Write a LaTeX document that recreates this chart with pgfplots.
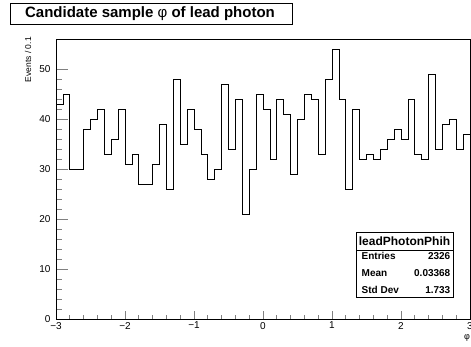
\documentclass[border=0pt]{standalone}
\usepackage{fontspec}
\setmainfont{Liberation Sans}
\usepackage{pgfplots}
\pgfplotsset{compat=1.18}
\begin{document}
\begin{tikzpicture}[x=1bp,y=1bp]
\useasboundingbox (0,0) rectangle (471,346);
\begin{axis}[
  at={(56bp,26.5bp)}, anchor=south west,
  width=414bp, height=280.5bp, scale only axis,
  xmin=-3, xmax=3, ymin=0, ymax=56,
  axis line style={line width=0.8bp},
  tick pos=left, tick align=inside,
  xtick={-3,-2,-1,0,1,2,3},
  xticklabels={−3,−2,−1,0,1,2,3},
  ytick={0,10,20,30,40,50},
  minor x tick num=4, minor y tick num=4,
  xtick style={line width=0.7bp,/pgfplots/major tick length=9bp,/pgfplots/minor tick length=4.5bp},
  ytick style={line width=0.7bp,/pgfplots/major tick length=12bp,/pgfplots/minor tick length=6bp},
  /pgf/number format/assume math mode=true,
  ticklabel style={font=\fontsize{10bp}{12bp}\selectfont},
  yticklabel style={xshift=-2bp},
  xticklabel style={yshift=1bp},
  clip=false,
]
\addplot[const plot mark left, black, line width=0.8bp] coordinates {
(-3.0,43) (-2.9,45) (-2.8,30) (-2.7,30) (-2.6,38) (-2.5,40) (-2.4,42) (-2.3,33) (-2.2,36) (-2.1,42)
(-2.0,31) (-1.9,33) (-1.8,27) (-1.7,27) (-1.6,31) (-1.5,39) (-1.4,26) (-1.3,48) (-1.2,35) (-1.1,42)
(-1.0,38) (-0.9,33) (-0.8,28) (-0.7,30) (-0.6,47) (-0.5,34) (-0.4,44) (-0.3,21) (-0.2,30) (-0.1,45)
(0.0,42) (0.1,32) (0.2,44) (0.3,41) (0.4,29) (0.5,40) (0.6,45) (0.7,44) (0.8,33) (0.9,48)
(1.0,54) (1.1,44) (1.2,26) (1.3,42) (1.4,32) (1.5,33) (1.6,32) (1.7,34) (1.8,36) (1.9,38)
(2.0,36) (2.1,44) (2.2,33) (2.3,32) (2.4,49) (2.5,34) (2.6,39) (2.7,40) (2.8,34) (2.9,37)
(3.0,37)
};
\end{axis}
% y label
\node[rotate=90, anchor=east, inner sep=0pt, font=\fontsize{8.5bp}{9bp}\selectfont] at (28,309) {Events / 0.1};
% x label
\node[inner sep=0pt, font=\fontsize{9bp}{10bp}\selectfont] at (467,8) {φ};
% title box
\draw[line width=0.7bp, fill=white] (10,343) rectangle (292,322);
\node[inner sep=0pt, font=\fontsize{15bp}{16bp}\selectfont\bfseries] at (150,332.5) {Candidate sample {\mdseries φ} of lead photon};
% stats box
\draw[line width=0.7bp, fill=white] (356,114) rectangle (453,49);
\draw[line width=0.7bp] (356,96) -- (453,96);
\node[inner sep=0pt, font=\fontsize{12bp}{14bp}\selectfont\bfseries] at (404.5,105) {leadPhotonPhih};
\begin{scope}[every node/.style={inner sep=0pt, font=\fontsize{10bp}{12bp}\selectfont\bfseries}]
\node[anchor=west] at (361.5,90) {Entries};
\node[anchor=east] at (450.5,90) {2326};
\node[anchor=west] at (361.5,73) {Mean};
\node[anchor=east] at (450.5,73) {0.03368};
\node[anchor=west] at (361.5,56) {Std Dev};
\node[anchor=east] at (450.5,56) {1.733};
\end{scope}
\end{tikzpicture}
\end{document}
